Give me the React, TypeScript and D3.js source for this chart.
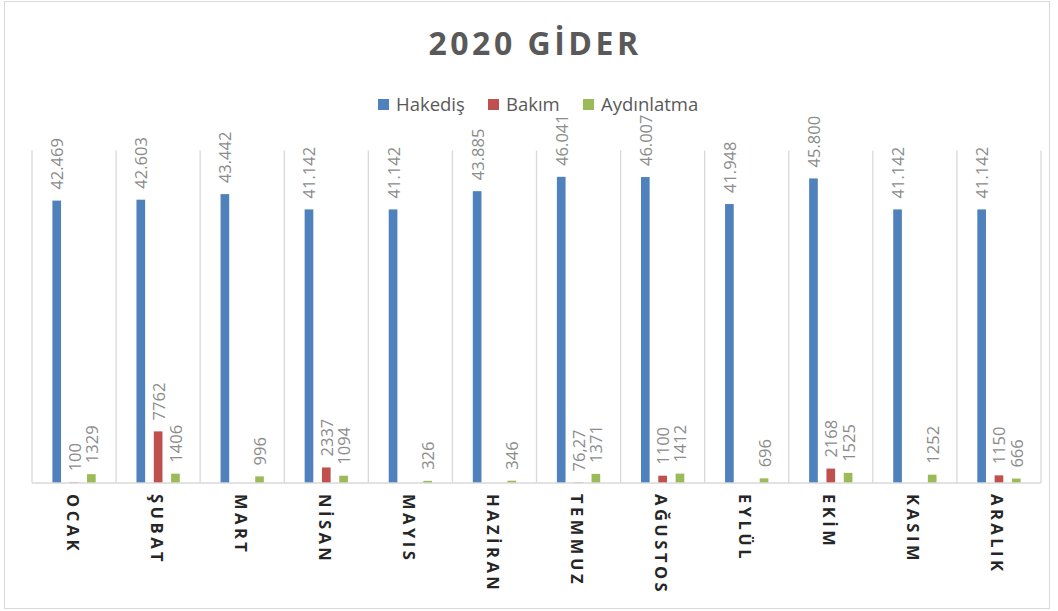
import React from "react";
import * as d3 from "d3";

const months = ["OCAK", "ŞUBAT", "MART", "NİSAN", "MAYIS", "HAZİRAN", "TEMMUZ", "AĞUSTOS", "EYLÜL", "EKİM", "KASIM", "ARALIK"];
const seriesNames = ["Hakediş", "Bakım", "Aydınlatma"];
const hakedis = [42469, 42603, 43442, 41142, 41142, 43885, 46041, 46007, 41948, 45800, 41142, 41142];
const bakim: (number | null)[] = [100, 7762, null, 2337, null, null, 76.27, 1100, null, 2168, null, 1150];
const aydinlatma = [1329, 1406, 996, 1094, 326, 346, 1371, 1412, 696, 1525, 1252, 666];
const colors = ["#4f81bd", "#c0504d", "#9bbb59"];
const yMax = 50000;

const W = 1058;
const H = 611;
const plot = { left: 32, right: 1041, top: 150.5, bottom: 483 };

const fmtHak = (v: number) => d3.format(",")(v).replace(/,/g, ".");
const fmtPlain = (v: number) => String(v).replace(".", ",");

export default function App() {
  const x0 = d3.scaleBand<string>().domain(months).range([plot.left, plot.right]).padding(0);
  const bw = x0.bandwidth();
  const gw = bw * 0.2425;
  const x1 = d3.scaleBand<string>().domain(seriesNames).range([gw, bw - gw]).paddingInner(0.5).paddingOuter(0);
  const y = d3.scaleLinear().domain([0, yMax]).range([plot.bottom, plot.top]);

  const data = [hakedis, bakim, aydinlatma];
  const formatters = [fmtHak, fmtPlain, fmtPlain];

  const gridXs = months.map((m) => x0(m)!).concat([plot.right]);

  return (
    <svg width={W} height={H} style={{ position: "absolute", left: 0, top: 0, background: "#fff" }}>
      <rect x={4.5} y={1.5} width={1045} height={607} fill="#fff" stroke="#d9d9d9" strokeWidth={1} />
      <text x={535} y={55} textAnchor="middle" fontFamily="Open Sans" fontWeight="bold" fontSize={32} fill="#595959" letterSpacing={3.5}>
        2020 GİDER
      </text>
      {seriesNames.map((s, i) => {
        const lx = [378, 488, 583][i];
        return (
          <g key={s}>
            <rect x={lx} y={99} width={11} height={11} fill={colors[i]} />
            <text x={lx + 18} y={111} fontFamily="Open Sans" fontSize={18.5} fill="#595959">{s}</text>
          </g>
        );
      })}
      {gridXs.map((gx, i) => (
        <line key={i} x1={gx} x2={gx} y1={plot.top} y2={plot.bottom} stroke="#d9d9d9" strokeWidth={1.3} />
      ))}
      {data.map((arr, si) =>
        arr.map((v, mi) => {
          if (v === null || v === undefined) return null;
          const bx = x0(months[mi])! + x1(seriesNames[si])!;
          const top = y(v);
          return (
            <rect key={`b${si}-${mi}`} x={bx} y={top} width={x1.bandwidth()} height={plot.bottom - top} fill={colors[si]} />
          );
        })
      )}
      <line x1={plot.left} x2={plot.right} y1={plot.bottom} y2={plot.bottom} stroke="#d9d9d9" strokeWidth={1.5} />
      {data.map((arr, si) =>
        arr.map((v, mi) => {
          if (v === null || v === undefined) return null;
          const cx = x0(months[mi])! + x1(seriesNames[si])! + x1.bandwidth() / 2;
          const top = y(v) - 11;
          return (
            <text key={`l${si}-${mi}`} transform={`translate(${cx},${top}) rotate(-90)`} dominantBaseline="central" fontFamily="Open Sans" fontSize={16.5} fill="#8c8c8c">
              {formatters[si](v)}
            </text>
          );
        })
      )}
      {months.map((m) => {
        const cx = x0(m)! + bw / 2 - 1;
        return (
          <text key={m} transform={`translate(${cx},${494}) rotate(90)`} dominantBaseline="central" fontFamily="Open Sans" fontWeight="bold" fontSize={16.5} fill="#262626" letterSpacing={3.5}>
            {m}
          </text>
        );
      })}
    </svg>
  );
}
